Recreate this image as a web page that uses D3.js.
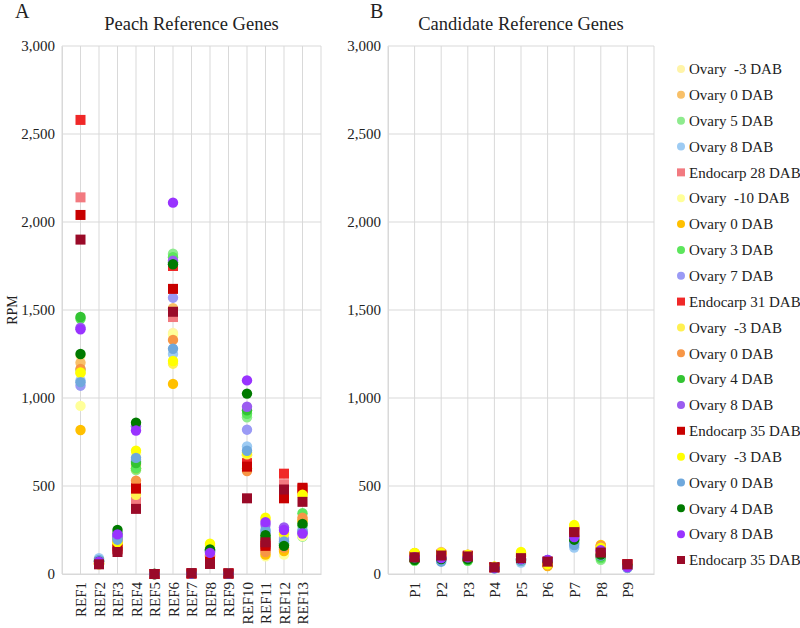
<!DOCTYPE html>
<html><head><meta charset="utf-8">
<script src="https://cdn.jsdelivr.net/npm/d3@7"></script>
<style>
body{margin:0;background:#fff;}
svg text{font-family:"Liberation Serif","Times New Roman",serif !important;fill:#222;}
</style></head>
<body><svg id="c" width="800" height="628"></svg>
<script>
const refCategories = ["REF1","REF2","REF3","REF4","REF5","REF6","REF7","REF8","REF9","REF10","REF11","REF12","REF13"];
const candCategories = ["P1","P2","P3","P4","P5","P6","P7","P8","P9"];
const seriesNames = ["Ovary  -3 DAB","Ovary 0 DAB","Ovary 5 DAB","Ovary 8 DAB","Endocarp 28 DAB",
  "Ovary  -10 DAB","Ovary 0 DAB","Ovary 3 DAB","Ovary 7 DAB","Endocarp 31 DAB",
  "Ovary  -3 DAB","Ovary 0 DAB","Ovary 4 DAB","Ovary 8 DAB","Endocarp 35 DAB",
  "Ovary  -3 DAB","Ovary 0 DAB","Ovary 4 DAB","Ovary 8 DAB","Endocarp 35 DAB"];
const seriesShapes = ["circle","circle","circle","circle","square","circle","circle","circle","circle","square",
  "circle","circle","circle","circle","square","circle","circle","circle","circle","square"];
const seriesColors = ["#FFF4A8","#F8C068","#8EEB8E","#9DCBF3","#F27A80","#FFFF99","#FFC000","#5CE65C","#9A9AF5","#F02828",
  "#FFF050","#F79646","#33C433","#9B5CF0","#C80000","#FFFF00","#6FA8DC","#007A00","#9933FF","#9A0A28"];
const yTicks = [0,500,1000,1500,2000,2500,3000];
// values per series (RPM), REF1..REF13
const refValues = [
  [1240,70,165,680,0,1370,2,160,2,670,110,260,220],
  [1200,60,185,620,0,1510,2,110,2,675,140,140,310],
  [1160,85,200,590,0,1820,2,130,2,890,195,170,212],
  [1100,90,200,650,0,1250,2,135,2,725,255,195,240],
  [2140,60,150,410,0,1460,3,80,3,620,150,510,475],
  [955,70,160,690,0,1360,2,150,2,660,100,110,215],
  [818,55,170,600,0,1080,2,100,2,600,110,130,300],
  [1450,75,205,600,0,1800,2,125,2,910,200,175,345],
  [1070,75,210,640,0,1570,2,125,2,820,235,205,250],
  [2580,65,160,490,0,1750,3,75,3,630,170,570,485],
  [1140,65,175,450,0,1195,2,165,2,680,310,225,445],
  [1165,60,195,530,0,1330,2,105,2,585,125,150,320],
  [1460,75,230,630,0,1770,2,135,2,930,210,165,275],
  [1400,70,215,840,0,1780,2,130,2,950,280,265,235],
  [2040,60,140,485,0,1620,3,70,3,610,160,430,490],
  [1145,60,180,700,0,1210,2,172,2,690,320,235,450],
  [1090,80,195,660,0,1280,2,130,2,700,245,185,245],
  [1250,70,250,860,0,1760,2,140,2,1025,220,160,285],
  [1390,70,225,815,0,2110,2,120,2,1100,295,250,230],
  [1900,55,125,370,0,1490,5,57,3,430,180,480,410]
];
// values per series (RPM), P1..P9
const candValues = [
  [110,115,100,40,115,55,270,150,40],
  [120,125,105,38,105,50,260,160,45],
  [80,90,80,35,70,70,180,80,45],
  [90,75,90,32,65,75,150,95,35],
  [100,105,100,38,90,65,245,125,55],
  [115,115,100,40,120,50,275,150,40],
  [118,120,105,42,110,45,265,165,45],
  [75,85,75,35,75,70,190,90,45],
  [85,80,90,33,80,75,175,110,35],
  [100,110,105,38,95,70,240,125,55],
  [115,120,100,40,120,55,270,155,40],
  [110,115,110,38,100,50,255,160,45],
  [80,90,80,35,80,75,200,100,50],
  [90,95,95,34,85,80,215,130,40],
  [95,105,100,38,95,70,235,120,55],
  [120,120,110,42,125,55,278,150,40],
  [85,70,90,32,75,80,165,105,35],
  [80,85,85,36,85,75,195,110,45],
  [95,90,95,35,85,80,210,135,40],
  [95,105,100,38,90,70,238,122,55]
];

const SERIF = '"Liberation Serif","Times New Roman",serif';
const svg = d3.select("#c");
const plotTop = 46, plotBottom = 574;
const y = d3.scaleLinear().domain([0,3000]).range([plotBottom, plotTop]);

function panel(x0, x1, cats, vals, title, letter, letterX) {
  const x = d3.scalePoint().domain(cats).range([x0, x1]).padding(1);
  const g = svg.append("g");
  g.selectAll("line.h").data(yTicks).join("line")
    .attr("x1", x0).attr("x2", x1).attr("y1", d=>y(d)).attr("y2", d=>y(d))
    .attr("stroke", "#d9d9d9").attr("stroke-width", 1);
  g.selectAll("line.v").data(cats).join("line")
    .attr("x1", d=>x(d)).attr("x2", d=>x(d)).attr("y1", plotTop).attr("y2", plotBottom)
    .attr("stroke", "#d9d9d9").attr("stroke-width", 1);
  g.append("line").attr("x1", x0).attr("x2", x0).attr("y1", plotTop).attr("y2", plotBottom).attr("stroke", "#d9d9d9");
  g.append("line").attr("x1", x1).attr("x2", x1).attr("y1", plotTop).attr("y2", plotBottom).attr("stroke", "#d9d9d9");
  const ya = d3.axisLeft(y).tickValues(yTicks).tickFormat(d3.format(",")).tickSize(0).tickPadding(7);
  const yg = g.append("g").attr("transform", `translate(${x0},0)`).call(ya).attr("font-family", SERIF);
  yg.select(".domain").attr("stroke", "#d9d9d9");
  yg.selectAll("text").attr("font-family", SERIF).style("font-size", "15px").attr("fill", "#222");
  const xa = d3.axisBottom(x).tickSize(0).tickPadding(8);
  const xg = g.append("g").attr("transform", `translate(0,${plotBottom})`).call(xa).attr("font-family", SERIF);
  xg.select(".domain").attr("stroke", "#d9d9d9");
  xg.selectAll("text").attr("font-family", SERIF).style("font-size", "15px").attr("fill", "#222")
    .attr("transform", "rotate(-90)").attr("text-anchor", "end").attr("dx", "-8").attr("dy", "0.35em").attr("x", 0).attr("y", 0);
  g.append("text").attr("x", (x0 + x1)/2).attr("y", 30).attr("text-anchor", "middle")
    .attr("font-family", SERIF).style("font-size", "18.5px").text(title);
  g.append("text").attr("x", letterX).attr("y", 18).attr("font-family", SERIF).style("font-size", "20px").text(letter);
  vals.forEach((row, si) => {
    const pts = row.map((v, i) => ({c: cats[i], v}));
    const col = seriesColors[si];
    if (seriesShapes[si] === "square") {
      g.selectAll(null).data(pts).join("rect")
        .attr("x", d=>x(d.c)-5).attr("y", d=>y(d.v)-5).attr("width", 10).attr("height", 10)
        .attr("fill", col);
    } else {
      g.selectAll(null).data(pts).join("circle")
        .attr("cx", d=>x(d.c)).attr("cy", d=>y(d.v)).attr("r", 5.2).attr("fill", col);
    }
  });
}
panel(62, 321, refCategories, refValues, "Peach Reference Genes", "A", 15);
panel(388, 654, candCategories, candValues, "Candidate Reference Genes", "B", 370);

svg.append("text").attr("transform", "translate(17,310) rotate(-90)").attr("text-anchor", "middle")
  .attr("font-family", SERIF).style("font-size", "14px").text("RPM");

const ly = d3.scalePoint().domain(d3.range(seriesNames.length)).range([69, 560]);
const lg = svg.append("g");
seriesNames.forEach((n, i) => {
  const yy = ly(i);
  if (seriesShapes[i] === "square") {
    lg.append("rect").attr("x", 677).attr("y", yy-4).attr("width", 8).attr("height", 8).attr("fill", seriesColors[i]);
  } else {
    lg.append("circle").attr("cx", 681).attr("cy", yy).attr("r", 4).attr("fill", seriesColors[i]);
  }
  lg.append("text").attr("x", 689).attr("y", yy).attr("dy", "0.35em")
    .attr("font-family", SERIF).style("font-size", "15px")
    .attr("xml:space", "preserve").style("white-space", "pre").text(n);
});
</script></body></html>
